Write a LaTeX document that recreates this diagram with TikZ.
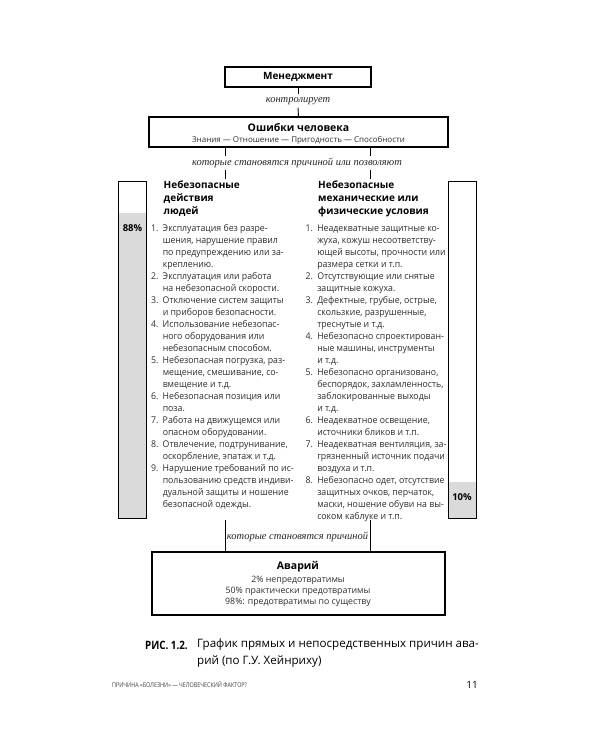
\documentclass[tikz,border=0pt]{standalone}
\usepackage{fontspec}
\setmainfont{Open Sans}
\newfontfamily\labelserif{Liberation Serif}
\definecolor{barfill}{HTML}{DADADA}
\definecolor{bodytext}{HTML}{2E2E2E}
\begin{document}
\begin{tikzpicture}[x=1pt,y=-1pt,
  framebox/.style={draw=black, line width=1.1pt, inner sep=0, fill=none},
  connector/.style={draw=black, line width=0.9pt},
  linklabel/.style={font=\labelserif\itshape\fontsize{10.5}{12}\selectfont, inner sep=0, text=black!85},
  headtext/.style={font=\bfseries\fontsize{10}{13}\selectfont, align=left, inner sep=0, anchor=north west},
  listtext/.style={font=\fontsize{9.3}{12}\selectfont, inner sep=0, anchor=north west, text=bodytext},
  pct/.style={font=\bfseries\fontsize{9.5}{11}\selectfont, inner sep=0},
]
\useasboundingbox (0,0) rectangle (600,750);
\fill[white] (0,0) rectangle (600,750);

% --- Management ---
\node[framebox, minimum width=146, minimum height=20] (mgmt) at (298,77) {};
\node[font=\bfseries\fontsize{10}{12}\selectfont, inner sep=0] (mgmtT) at (298,77) {Менеджмент};

\node[linklabel, minimum height=13] (ctrl) at (298,101) {контролирует};

% --- Human errors ---
\node[framebox, minimum width=299, minimum height=30] (err) at (298.5,132) {};
\node[font=\bfseries\fontsize{10.5}{12}\selectfont, inner sep=0] (errT) at (298.5,127.5) {Ошибки человека};
\node[font=\fontsize{8}{10}\selectfont, inner sep=0, text=bodytext] (errS) at (298.5,140.5) {Знания — Отношение — Пригодность — Способности};

\draw[connector] (mgmt.south) -- (ctrl.north);
\draw[connector] (ctrl.south) -- (err.north);

% connector end points on the two columns
\coordinate (lh) at (225,179);
\coordinate (rh) at (370,179);
\coordinate (lb) at (225,520);
\coordinate (rb) at (370,520);

\node[linklabel, minimum height=13] (why1) at (297,163) {которые становятся причиной или позволяют};
\draw[connector] (err.south -| lh) -- (why1.north -| lh);
\draw[connector] (why1.south -| lh) -- (lh);
\draw[connector] (err.south -| rh) -- (why1.north -| rh);
\draw[connector] (why1.south -| rh) -- (rh);

% --- Bars ---
\fill[barfill] (118.5,213) rectangle (146.5,518);
\node[framebox, line width=1pt, minimum width=28, minimum height=337] (lbar) at (132.5,349.5) {};
\node[pct] (lpct) at (132.5,228) {88\%};

\fill[barfill] (448,482) rectangle (476,518);
\node[framebox, line width=1pt, minimum width=28, minimum height=337] (rbar) at (462,349.5) {};
\node[pct] (rpct) at (462,497) {10\%};

% --- Column headers ---
\node[headtext] (lhead) at (163.5,181) {Небезопасные\\действия\\людей};
\node[headtext] (rhead) at (318,181) {Небезопасные\\механические или\\физические условия};

% --- Lists ---
\node[listtext] (llist) at (151,222.5) {\scalebox{0.94}[1]{%
\begin{tabular}{@{}r@{\hspace{4.5pt}}l@{}}
1. & Эксплуатация без разре-\\
   & шения, нарушение правил\\
   & по предупреждению или за-\\
   & креплению.\\
2. & Эксплуатация или работа\\
   & на небезопасной скорости.\\
3. & Отключение систем защиты\\
   & и приборов безопасности.\\
4. & Использование небезопас-\\
   & ного оборудования или\\
   & небезопасным способом.\\
5. & Небезопасная погрузка, раз-\\
   & мещение, смешивание, со-\\
   & вмещение и т.д.\\
6. & Небезопасная позиция или\\
   & поза.\\
7. & Работа на движущемся или\\
   & опасном оборудовании.\\
8. & Отвлечение, подтрунивание,\\
   & оскорбление, эпатаж и т.д.\\
9. & Нарушение требований по ис-\\
   & пользованию средств индиви-\\
   & дуальной защиты и ношение\\
   & безопасной одежды.
\end{tabular}}};

\node[listtext] (rlist) at (305.5,222.5) {\scalebox{0.94}[1]{%
\begin{tabular}{@{}r@{\hspace{4.5pt}}l@{}}
1. & Неадекватные защитные ко-\\
   & жуха, кожуш несоответству-\\
   & ющей высоты, прочности или\\
   & размера сетки и т.п.\\
2. & Отсутствующие или снятые\\
   & защитные кожуха.\\
3. & Дефектные, грубые, острые,\\
   & скользкие, разрушенные,\\
   & треснутые и т.д.\\
4. & Небезопасно спроектирован-\\
   & ные машины, инструменты\\
   & и т.д.\\
5. & Небезопасно организовано,\\
   & беспорядок, захламленность,\\
   & заблокированные выходы\\
   & и т.д.\\
6. & Неадекватное освещение,\\
   & источники бликов и т.п.\\
7. & Неадекватная вентиляция, за-\\
   & грязненный источник подачи\\
   & воздуха и т.п.\\
8. & Небезопасно одет, отсутствие\\
   & защитных очков, перчаток,\\
   & маски, ношение обуви на вы-\\
   & соком каблуке и т.п.
\end{tabular}}};

% --- Accidents ---
\node[framebox, minimum width=293, minimum height=63] (acc) at (298.5,583.5) {};
\node[font=\bfseries\fontsize{10.5}{12}\selectfont, inner sep=0] (accT) at (298,566.5) {Аварий};
\node[font=\fontsize{8.8}{11}\selectfont, inner sep=0, align=center, text=bodytext, anchor=north] (accS) at (298,575.5) {2\% непредотвратимы\\50\% практически предотвратимы\\98\%: предотвратимы по существу};

\node[linklabel, minimum height=13] (why2) at (297.5,537) {которые становятся причиной};
\draw[connector] (lb) -- (acc.north -| lb);
\draw[connector] (rb) -- (acc.north -| rb);

% --- Caption ---
\node[font=\bfseries\fontsize{11.5}{14}\selectfont, inner sep=0, anchor=west] (capL) at (145,645) {\scalebox{0.85}[1]{РИС. 1.2.}};
\node[font=\fontsize{11.6}{17}\selectfont, inner sep=0, anchor=north west, align=left] (capT) at (197,638) {График прямых и непосредственных причин ава-\\рий (по Г.У. Хейнриху)};

% --- Footer ---
\node[font=\fontsize{6.5}{7}\selectfont, inner sep=0, anchor=west, text=black!75] (foot) at (112,685) {\scalebox{0.83}[1]{ПРИЧИНА «БОЛЕЗНИ» — ЧЕЛОВЕЧЕСКИЙ ФАКТОР?}};
\node[font=\fontsize{10}{12}\selectfont, inner sep=0, anchor=east] (pnum) at (478,685) {11};
\end{tikzpicture}
\end{document}
